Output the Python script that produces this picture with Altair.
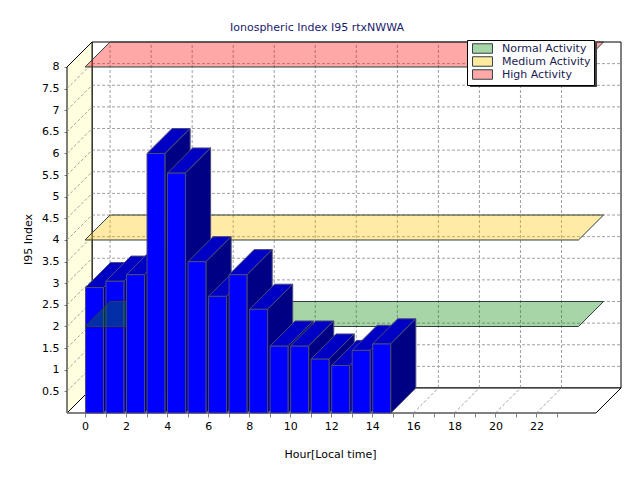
import altair as alt
import pandas as pd

# ---------------- data ----------------
hours = list(range(15))
i95_values = [2.9, 3.05, 3.2, 6.0, 5.55, 3.5, 2.7, 3.2, 2.4, 1.55, 1.55, 1.25, 1.1, 1.45, 1.6]
band_names = ["Normal Activity", "Medium Activity", "High Activity"]
band_levels = [2, 4, 8]
band_colors = ["#068706", "#FFC600", "#FF0606"]          # translucent band base colours
band_swatches = ["#A8D5A8", "#FFEBA0", "#FFA8A8"]        # same colours as seen on white
x_tick_values = list(range(0, 24))
x_grid_values = list(range(0, 24, 2))
y_tick_values = [0.5, 1, 1.5, 2, 2.5, 3, 3.5, 4, 4.5, 5, 5.5, 6, 6.5, 7, 7.5, 8]

# ---------------- 3-D styling constants (data units) ----------------
DX = 1.22      # depth shift along x
DY = 0.578     # depth shift along y
X_LO = -0.88
X_HI = 24.9
Y_TOP = 8
BAND_X0 = 0
BAND_X1 = 24.05
BAR_PAD = 0.02
BAR_W = 0.88
BAND_ALPHA = 0.35

FONT = "DejaVu Sans"
GRID = "#A0A0A0"
BAR_STROKE = "#4A4A7A"
BAND_STROKE = "#2F3F3F"

XS = alt.Scale(domain=[X_LO, X_HI + DX], nice=False, zero=False)
YS = alt.Scale(domain=[0, Y_TOP + DY], nice=False, zero=False)

# ---------------- axes ----------------
x_axis = alt.Axis(
    values=x_tick_values,
    labelExpr="datum.value % 2 === 0 ? datum.label : ''",
    title="Hour[Local time]",
    grid=False, domain=False, tickSize=4, tickColor="#808080",
    labelFont=FONT, labelFontSize=11, labelColor="#000000", labelPadding=3,
    labelOverlap=False, labelFlush=False,
    titleFont=FONT, titleFontSize=11, titleFontWeight="normal", titleColor="#000000",
    titleX=263, titleY=35, titleBaseline="top",
)
y_axis = alt.Axis(
    values=y_tick_values, format="~g",
    title="I95 Index",
    grid=False, domain=False, tickSize=3, tickColor="#808080",
    labelFont=FONT, labelFontSize=11, labelColor="#000000", labelPadding=5,
    labelOverlap=False, labelFlush=False,
    titleFont=FONT, titleFontSize=11, titleFontWeight="normal", titleColor="#000000",
    titleX=-39, titleY=197, titleBaseline="middle",
)


def ex(f):
    return alt.X(f, type="quantitative", scale=XS, axis=x_axis, stack=None)


def ey(f):
    return alt.Y(f, type="quantitative", scale=YS, axis=y_axis, stack=None)


# ---------------- derived tables ----------------
front = pd.DataFrame({"hour": hours, "value": i95_values})
front["x0"] = front["hour"] + BAR_PAD
front["x1"] = front["x0"] + BAR_W
front["base"] = 0.0

top_rows, side_rows = [], []
for h, v in zip(hours, i95_values):
    x0 = h + BAR_PAD
    x1 = x0 + BAR_W
    top_rows.append({"hour": h, "y": v, "xa": x0, "xb": x1})
    top_rows.append({"hour": h, "y": v + DY, "xa": x0 + DX, "xb": x1 + DX})
    side_rows.append({"hour": h, "x": x1, "ya": 0.0, "yb": v})
    side_rows.append({"hour": h, "x": x1 + DX, "ya": DY, "yb": v + DY})
top = pd.DataFrame(top_rows)
side = pd.DataFrame(side_rows)

band_rows = []
for n, lv in zip(band_names, band_levels):
    band_rows.append({"band": n, "shadow": "shadow", "y": lv, "xa": BAND_X0, "xb": BAND_X1})
    band_rows.append({"band": n, "shadow": "shadow", "y": lv + DY,
                      "xa": BAND_X0 + DX, "xb": BAND_X1 + DX})
bands = pd.DataFrame(band_rows)

back_wall = pd.DataFrame([{"x0": X_LO + DX, "x1": X_HI + DX, "y0": DY, "y1": Y_TOP + DY}])
floor = pd.DataFrame([
    {"y": 0.0, "xa": X_LO, "xb": X_HI},
    {"y": DY, "xa": X_LO + DX, "xb": X_HI + DX},
])
left_wall = pd.DataFrame([
    {"x": X_LO, "ya": 0.0, "yb": Y_TOP},
    {"x": X_LO + DX, "ya": DY, "yb": Y_TOP + DY},
])
vgrid = pd.DataFrame({"x": [k + DX for k in x_grid_values]})
vgrid["y0"] = DY
vgrid["y1"] = Y_TOP + DY
hgrid = pd.DataFrame({"y": [j + DY for j in y_tick_values if j < Y_TOP]})
hgrid["x0"] = X_LO + DX
hgrid["x1"] = X_HI + DX
floor_diag = pd.DataFrame({"x0": x_grid_values, "x1": [k + DX for k in x_grid_values]})
floor_diag["y0"] = 0.0
floor_diag["y1"] = DY
left_diag = pd.DataFrame({"y0": [j for j in y_tick_values if j < Y_TOP],
                          "y1": [j + DY for j in y_tick_values if j < Y_TOP]})
left_diag["x0"] = X_LO
left_diag["x1"] = X_LO + DX
front_edge = pd.DataFrame([{"x0": X_LO, "x1": X_HI, "y": 0.0}])

# ---------------- layers ----------------
layers = []
layers.append(
    alt.Chart(back_wall).mark_rect(fill="white", stroke="black", strokeWidth=1).encode(
        x=ex("x0"), x2="x1", y=ey("y0"), y2="y1")
)
layers.append(
    alt.Chart(vgrid).mark_rule(color=GRID, strokeDash=[3, 2], strokeWidth=1).encode(
        x=ex("x"), y=ey("y0"), y2="y1")
)
layers.append(
    alt.Chart(hgrid).mark_rule(color=GRID, strokeDash=[3, 2], strokeWidth=1).encode(
        x=ex("x0"), x2="x1", y=ey("y"))
)
layers.append(
    alt.Chart(floor).mark_area(orient="horizontal", fill="white", stroke="black", strokeWidth=1).encode(
        x=ex("xa"), x2="xb", y=ey("y"))
)
layers.append(
    alt.Chart(floor_diag).mark_rule(color=GRID, strokeDash=[3, 2], strokeWidth=1).encode(
        x=ex("x0"), x2="x1", y=ey("y0"), y2="y1")
)
layers.append(
    alt.Chart(left_wall).mark_area(orient="vertical", fill="#FFFFE0", stroke="black", strokeWidth=1).encode(
        x=ex("x"), y=ey("ya"), y2="yb")
)
layers.append(
    alt.Chart(left_diag).mark_rule(color=GRID, strokeDash=[3, 2], strokeWidth=1).encode(
        x=ex("x0"), x2="x1", y=ey("y0"), y2="y1")
)
layers.append(
    alt.Chart(front_edge).mark_rule(color="#808080", strokeWidth=2).encode(
        x=ex("x0"), x2="x1", y=ey("y"))
)


def bar_layers(h):
    f = alt.Chart(front).transform_filter(alt.datum.hour == h).mark_rect(
        fill="#0000FF", stroke=BAR_STROKE, strokeWidth=1).encode(
        x=ex("x0"), x2="x1", y=ey("base"), y2="value")
    t = alt.Chart(top).transform_filter(alt.datum.hour == h).mark_area(
        orient="horizontal", fill="#0000C4", stroke=BAR_STROKE, strokeWidth=1).encode(
        x=ex("xa"), x2="xb", y=ey("y"))
    s = alt.Chart(side).transform_filter(alt.datum.hour == h).mark_area(
        orient="vertical", fill="#000084", stroke=BAR_STROKE, strokeWidth=1).encode(
        x=ex("x"), y=ey("ya"), y2="yb")
    return [f, t, s]


def band_layers():
    out = []
    for n, c in zip(band_names, band_colors):
        out.append(
            alt.Chart(bands).transform_filter(alt.datum.band == n).mark_area(
                orient="horizontal", fill=c, fillOpacity=BAND_ALPHA,
                stroke=BAND_STROKE, strokeWidth=1).encode(
                x=ex("xa"), x2="xb", y=ey("y"))
        )
    return out


# legend-only layers (they draw no marks)
legend_layer = alt.Chart(bands).transform_filter("false").mark_area(
    orient="horizontal", stroke=BAND_STROKE, strokeWidth=1).encode(
    x=ex("xa"), x2="xb", y=ey("y"),
    fill=alt.Fill(
        "band:N",
        scale=alt.Scale(domain=band_names, range=band_swatches),
        legend=alt.Legend(
            title=None, orient="none", legendX=400, legendY=-2, zindex=2,
            symbolType="M-2.1,-1H2.1V1H-2.1Z", symbolSize=90, symbolStrokeWidth=1,
            symbolStrokeColor=BAND_STROKE, symbolOpacity=1,
            symbolOffset=7, labelOffset=14,
            labelFont=FONT, labelFontSize=11, labelColor="#1A1A50",
            fillColor="white", strokeColor="black", padding=3, rowPadding=-2,
        ),
    ),
)
# drop shadow of the legend box: one large dark swatch, no label
shadow_layer = alt.Chart(bands).transform_filter("false").mark_area(
    orient="horizontal", fill="#404040", strokeWidth=0).encode(
    x=ex("xa"), x2="xb", y=ey("y"),
    stroke=alt.Stroke(
        "shadow:N",
        scale=alt.Scale(domain=["shadow"], range=["#404040"]),
        legend=alt.Legend(
            title=None, orient="none", legendX=403, legendY=1, zindex=1,
            symbolType="M-2.886,-1H2.886V1H-2.886Z", symbolSize=1936,
            symbolStrokeWidth=0, symbolFillColor="#404040", symbolOpacity=1,
            symbolOffset=41.5, labelExpr="''", padding=0,
        ),
    ),
)

for h in hours[:2]:
    layers.extend(bar_layers(h))
layers.extend(band_layers())
for h in hours[2:]:
    layers.extend(bar_layers(h))
layers.append(shadow_layer)
layers.append(legend_layer)

chart = alt.layer(*layers).properties(
    width=554, height=371,
    autosize=alt.AutoSizeParams(type="none"),
    padding={"left": 59, "top": 34, "right": 10, "bottom": 50},
    background="white",
    title=alt.TitleParams(
        "Ionospheric Index I95 rtxNWWA", font=FONT, fontSize=11, fontWeight="normal",
        color="#1A1A6E", anchor="middle", dx=-27, dy=12, offset=8, baseline="bottom"),
).configure_view(strokeWidth=0)

chart.save("out.html", embed_options={"renderer": "svg", "actions": False})
